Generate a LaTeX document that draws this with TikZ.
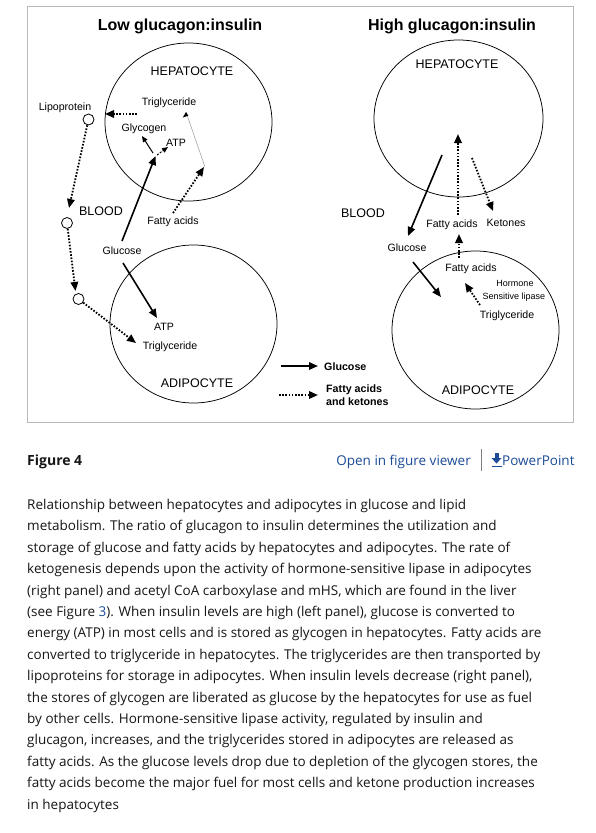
\documentclass[tikz,border=0pt]{standalone}
\usepackage{fontspec}
\setmainfont{Liberation Sans}
\newfontfamily\capfont{Open Sans}
\usetikzlibrary{arrows.meta,shapes.geometric}
\definecolor{captext}{RGB}{22,22,24}
\definecolor{linkblue}{RGB}{28,76,152}
\definecolor{framegray}{RGB}{185,185,185}
\begin{document}
\begin{tikzpicture}[x=1pt,y=-1pt,
  cell/.style={draw, ellipse, line width=0.75pt, inner sep=0},
  lbl/.style={font=\fontsize{10.6}{12}\selectfont, inner sep=0},
  tiny/.style={font=\fontsize{9}{10}\selectfont, inner sep=0},
  big/.style={font=\fontsize{12.5}{14}\selectfont, inner sep=0},
  ttl/.style={font=\bfseries\fontsize{16}{18}\selectfont, inner sep=0},
  leg/.style={font=\bfseries\fontsize{10.7}{13}\selectfont, inner sep=0, anchor=west, align=left},
  dotc/.style={circle, draw, line width=0.8pt, minimum size=11pt, inner sep=0},
  glu/.style={-{Triangle[length=9pt,width=7.5pt]}, line width=1.6pt},
  fat/.style={-{Triangle[length=9pt,width=7.5pt]}, line width=1.8pt, dash pattern=on 1.6pt off 1.6pt},
  thinarr/.style={-{Triangle[length=6pt,width=5pt]}, line width=1pt},
  captionline/.style={font=\capfont\fontsize{13.5}{16}\selectfont, text=captext, inner sep=0, anchor=base west},
  linktext/.style={font=\capfont\fontsize{13.5}{16}\selectfont, text=linkblue, inner sep=0}
]
\useasboundingbox (0,0) rectangle (595,833);
\fill[white] (0,0) rectangle (595,833);
% frame
\draw[framegray, line width=1pt] (27,6) rectangle (573,422);

% ---------- Left panel ----------
\node[ttl] (ttlL) at (180,26) {Low glucagon:insulin};
\node[cell, minimum width=167pt, minimum height=158pt] (hepL) at (188.5,122) {};
\node[cell, minimum width=167pt, minimum height=158pt] (adiL) at (193.5,324) {};
\node[big] (hepLt) at (192,71) {HEPATOCYTE};
\node[big] (adiLt) at (197,383) {ADIPOCYTE};
\node[lbl] (lipo) at (65,108) {Lipoprotein};
\node[lbl] (trigL) at (169,103) {Triglyceride};
\node[lbl] (glyc) at (144,129) {Glycogen};
\node[lbl] (atpL) at (176,143) {ATP};
\node[big] (bloodL) at (101,211) {BLOOD};
\node[lbl] (faL) at (173,222) {Fatty acids};
\node[lbl] (gluL) at (122,251) {Glucose};
\node[lbl] (atpA) at (164,327) {ATP};
\node[lbl] (trigA) at (170,347) {Triglyceride};
\node[dotc] (c1) at (88.5,119.5) {};
\node[dotc] (c2) at (67,223) {};
\node[dotc] (c3) at (78.5,299) {};

\coordinate (tgS) at (137,114);
\coordinate (tgE) at (105,114);
\coordinate (c1E) at (69,208);
\coordinate (c2E) at (75.5,291);
\coordinate (c3E) at (136,343);
\coordinate (gluUpS) at (122,241);
\coordinate (gluUpE) at (155.5,156);
\coordinate (glyS) at (153,153);
\coordinate (glyE) at (142,136);
\coordinate (atpS) at (157,155);
\coordinate (atpE) at (168,147);
\coordinate (grayS) at (205,167);
\coordinate (grayE) at (186,112);
\coordinate (faS) at (173,213);
\coordinate (faE) at (204,167);
\coordinate (gluDnS) at (123,263);
\coordinate (gluDnE) at (157,318);

\draw[fat] (tgS) -- (tgE);
\draw[fat] (c1) -- (c1E);
\draw[fat] (c2) -- (c2E);
\draw[fat] (c3) -- (c3E);
\draw[glu] (gluUpS) -- (gluUpE);
\draw[thinarr] (glyS) -- (glyE);
\draw[thinarr, dash pattern=on 2pt off 1.5pt] (atpS) -- (atpE);
\draw[gray!70, line width=0.6pt] (grayS) -- (grayE);
\fill[black] (grayE) -- ++(-3.2,5.5) -- ++(5.5,-1.8) -- cycle;
\draw[fat] (faS) -- (faE);
\draw[glu] (gluDnS) -- (gluDnE);

% legend
\coordinate (lg1S) at (281,366);
\coordinate (lg1E) at (318,366);
\coordinate (lg2S) at (279,395);
\coordinate (lg2E) at (318,395);
\draw[glu] (lg1S) -- (lg1E);
\draw[fat] (lg2S) -- (lg2E);
\node[leg] (lgGlu) at (324,366.5) {Glucose};
\node[leg] (lgFat) at (326,395.5) {Fatty acids\\and ketones};

% ---------- Right panel ----------
\node[ttl] (ttlR) at (452,26) {High glucagon:insulin};
\node[cell, minimum width=169pt, minimum height=157pt] (hepR) at (458.5,118.5) {};
\node[cell, minimum width=167pt, minimum height=158pt] (adiR) at (475.5,330) {};
\node[big] (hepRt) at (457,64) {HEPATOCYTE};
\node[big] (adiRt) at (478,390) {ADIPOCYTE};
\node[big] (bloodR) at (363,213) {BLOOD};
\node[lbl] (faR) at (452,225) {Fatty acids};
\node[lbl] (ket) at (506,223) {Ketones};
\node[lbl] (gluR) at (407,248) {Glucose};
\node[lbl] (faA) at (471,269) {Fatty acids};
\node[tiny] (horm) at (515,283) {Hormone};
\node[tiny] (hsl) at (514,297) {Sensitive lipase};
\node[lbl] (trigR) at (507,316) {Triglyceride};

\coordinate (gOutS) at (442,155);
\coordinate (gOutE) at (408,236);
\coordinate (faUpS) at (458,215);
\coordinate (faUpE) at (458,134);
\coordinate (ketS) at (472,158);
\coordinate (ketE) at (493,211);
\coordinate (faAS) at (459,258);
\coordinate (faAE) at (459,234);
\coordinate (gInS) at (413,262);
\coordinate (gInE) at (441,297);
\coordinate (hslS) at (480,305);
\coordinate (hslE) at (465,283);

\draw[glu] (gOutS) -- (gOutE);
\draw[fat] (faUpS) -- (faUpE);
\draw[fat] (ketS) -- (ketE);
\draw[fat] (faAS) -- (faAE);
\draw[glu] (gInS) -- (gInE);
\draw[fat] (hslS) -- (hslE);

% ---------- Caption area ----------
\node[font=\capfont\bfseries\fontsize{14}{16}\selectfont, text=captext, inner sep=0, anchor=base west] (fig4) at (27,465) {Figure 4};
\node[linktext, anchor=base east] (viewer) at (471,465) {Open in figure viewer};
\draw[gray, line width=0.8pt] (481,449) -- (481,471);
\fill[linkblue] (494.5,453) rectangle (498.5,458.5);
\fill[linkblue] (491.5,458) -- (501.5,458) -- (496.5,463.5) -- cycle;
\fill[linkblue] (491.5,465.5) rectangle (501.5,467);
\node[linktext, anchor=base west] (ppt) at (502,465) {PowerPoint};

\node[captionline] (l1) at (27,509.4) {Relationship between hepatocytes and adipocytes in glucose and lipid};
\node[captionline] (l2) at (27,530.8) {metabolism. The ratio of glucagon to insulin determines the utilization and};
\node[captionline] (l3) at (27,552.2) {storage of glucose and fatty acids by hepatocytes and adipocytes. The rate of};
\node[captionline] (l4) at (27,573.6) {ketogenesis depends upon the activity of hormone-sensitive lipase in adipocytes};
\node[captionline] (l5) at (27,595.0) {(right panel) and acetyl CoA carboxylase and mHS, which are found in the liver};
\node[captionline] (l6) at (27,616.4) {(see Figure \textcolor{linkblue}{3}). When insulin levels are high (left panel), glucose is converted to};
\node[captionline] (l7) at (27,637.8) {energy (ATP) in most cells and is stored as glycogen in hepatocytes. Fatty acids are};
\node[captionline] (l8) at (27,659.2) {converted to triglyceride in hepatocytes. The triglycerides are then transported by};
\node[captionline] (l9) at (27,680.6) {lipoproteins for storage in adipocytes. When insulin levels decrease (right panel),};
\node[captionline] (l10) at (27,702.0) {the stores of glycogen are liberated as glucose by the hepatocytes for use as fuel};
\node[captionline] (l11) at (27,723.4) {by other cells. Hormone-sensitive lipase activity, regulated by insulin and};
\node[captionline] (l12) at (27,744.8) {glucagon, increases, and the triglycerides stored in adipocytes are released as};
\node[captionline] (l13) at (27,766.2) {fatty acids. As the glucose levels drop due to depletion of the glycogen stores, the};
\node[captionline] (l14) at (27,787.6) {fatty acids become the major fuel for most cells and ketone production increases};
\node[captionline] (l15) at (27,809.0) {in hepatocytes};
\end{tikzpicture}
\end{document}
